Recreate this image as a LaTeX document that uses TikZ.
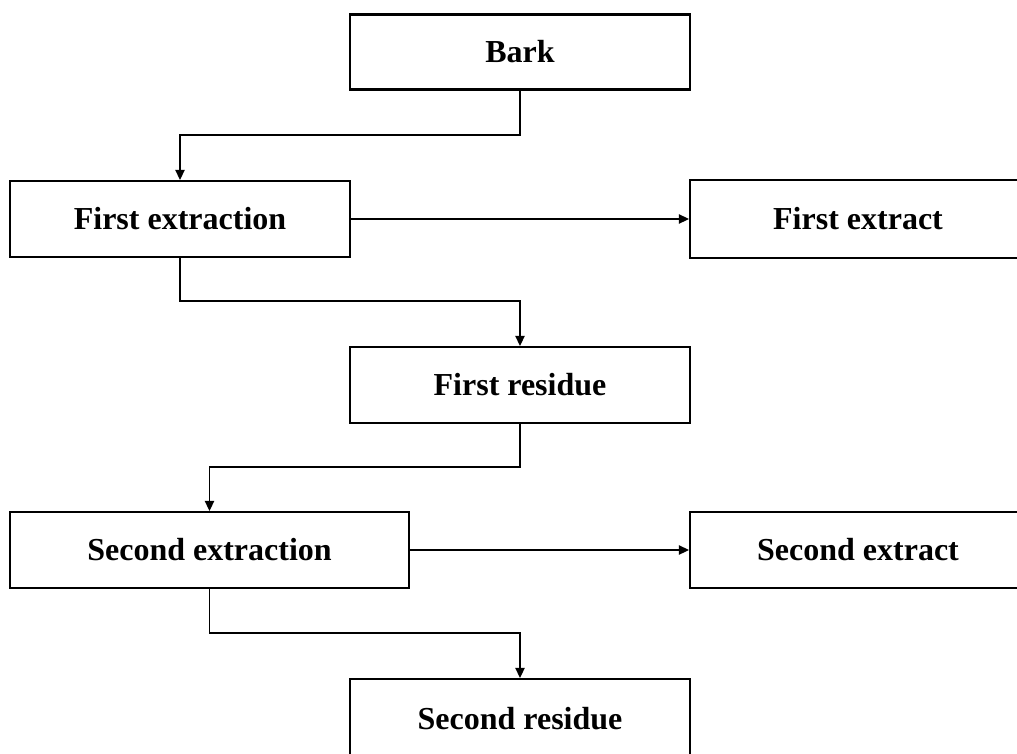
\documentclass[tikz,border=0pt]{standalone}
\usepackage{fontspec}
\setmainfont{Liberation Serif}
\usetikzlibrary{arrows.meta}
\tikzset{
  box/.style={draw=black, line width=1.6pt, fill=white, inner sep=0pt, anchor=center,
    font=\fontsize{24}{28}\selectfont\bfseries},
  conn/.style={draw=black, line width=1pt},
  arr/.style={conn, -{Triangle[length=7.5pt,width=7pt]}}
}
\begin{document}
\begin{tikzpicture}[x=0.75pt,y=-0.75pt]
\clip (0,0) rectangle (1017,753);
\fill[white] (0,0) rectangle (1017,753);
% boxes
\node[box, minimum width=255pt, minimum height=56.25pt] (bark) at (520,52) {Bark};
\node[box, minimum width=255pt, minimum height=57pt] (fe) at (180,219) {First extraction};
\node[box, minimum width=252pt, minimum height=58pt] (fx) at (858,219) {First extract};
\node[box, minimum width=255pt, minimum height=57pt] (fr) at (520,385) {First residue};
\node[box, minimum width=299pt, minimum height=57pt] (se) at (209.5,550) {Second extraction};
\node[box, minimum width=252pt, minimum height=57pt] (sx) at (858,550) {Second extract};
\node[box, minimum width=255pt, minimum height=60pt] (sr) at (520,719) {Second residue};
% junctions
\coordinate (j1) at (520,135);
\coordinate (j2) at (520,301);
\coordinate (j3) at (520,467);
\coordinate (j4) at (520,633);
% connectors
\draw[arr] (bark.south) -- (j1) -| (fe.north);
\draw[arr] (fe.east) -- (fx.west);
\draw[arr] (fe.south) |- (j2) -- (fr.north);
\draw[arr] (fr.south) -- (j3) -| (se.north);
\draw[arr] (se.east) -- (sx.west);
\draw[arr] (se.south) |- (j4) -- (sr.north);
\end{tikzpicture}
\end{document}
